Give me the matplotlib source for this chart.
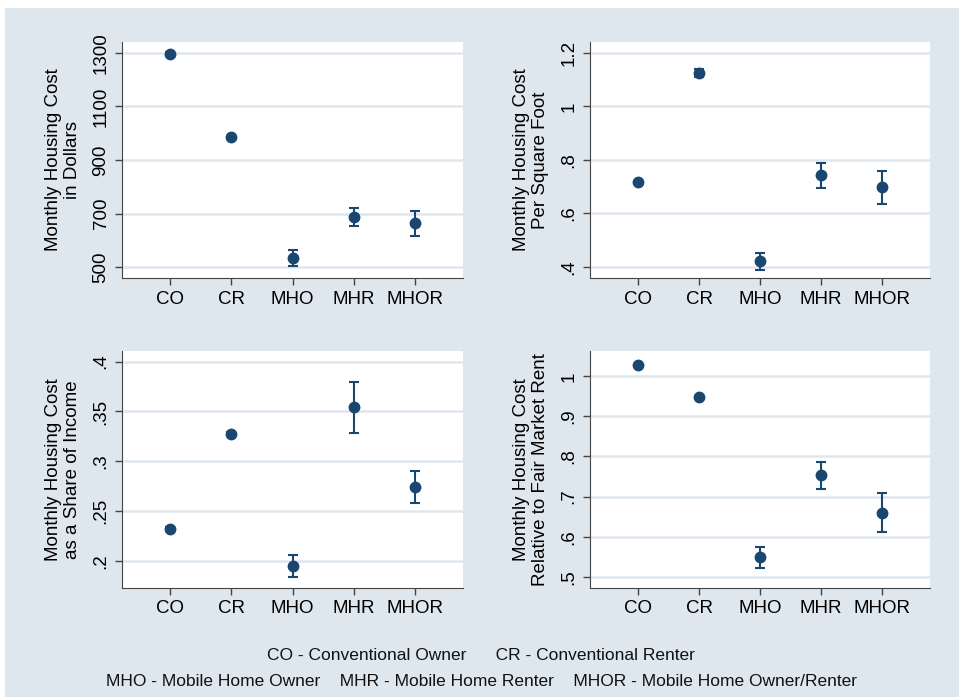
import numpy as np
import matplotlib
matplotlib.use("Agg")
import matplotlib.pyplot as plt
from matplotlib.patches import Rectangle

plt.rcParams['font.family'] = ['Liberation Sans', 'DejaVu Sans']

groups = ["CO", "CR", "MHO", "MHR", "MHOR"]

# panel values (mean, half-width of CI)
dollars = [1295, 985, 535, 688, 664]
dollars_err = [8, 6, 30, 33, 47]

per_sqft = [0.716, 1.124, 0.42, 0.742, 0.698]
per_sqft_err = [0.006, 0.015, 0.032, 0.048, 0.062]

income_share = [0.232, 0.327, 0.195, 0.354, 0.274]
income_share_err = [0.002, 0.002, 0.011, 0.026, 0.016]

fmr_ratio = [1.0275, 0.948, 0.548, 0.753, 0.660]
fmr_ratio_err = [0.004, 0.004, 0.027, 0.033, 0.049]

yticks1 = [500, 700, 900, 1100, 1300]
ytl1 = ["500", "700", "900", "1100", "1300"]
yticks2 = [0.4, 0.6, 0.8, 1.0, 1.2]
ytl2 = [".4", ".6", ".8", "1", "1.2"]
yticks3 = [0.2, 0.25, 0.3, 0.35, 0.4]
ytl3 = [".2", ".25", ".3", ".35", ".4"]
yticks4 = [0.5, 0.6, 0.7, 0.8, 0.9, 1.0]
ytl4 = [".5", ".6", ".7", ".8", ".9", "1"]

bg = "#dfe7ee"
navy = "#1a476f"
W, H = 959, 697

fig = plt.figure(figsize=(W / 100, H / 100), dpi=100, facecolor="white")
fig.patches.append(Rectangle((5 / W, 0), 1 - 5 / W, 1 - 8 / H, transform=fig.transFigure,
                             facecolor=bg, edgecolor="none", zorder=-10))

panels = [
    (dollars, dollars_err, yticks1, ytl1, (459, 1341), "Monthly Housing Cost\nin Dollars",
     [122 / W, 1 - 278 / H, 341 / W, 236 / H]),
    (per_sqft, per_sqft_err, yticks2, ytl2, (0.358, 1.241), "Monthly Housing Cost\nPer Square Foot",
     [590 / W, 1 - 278 / H, 340 / W, 236 / H]),
    (income_share, income_share_err, yticks3, ytl3, (0.173, 0.411), "Monthly Housing Cost\nas a Share of Income",
     [122 / W, 1 - 587.7 / H, 341 / W, 237 / H]),
    (fmr_ratio, fmr_ratio_err, yticks4, ytl4, (0.4726, 1.064), "Monthly Housing Cost\nRelative to Fair Market Rent",
     [590 / W, 1 - 587.7 / H, 340 / W, 237 / H]),
]

x = np.arange(1, len(groups) + 1)
for vals, errs, yt, ytl, ylim, label, rect in panels:
    ax = fig.add_axes(rect)
    ax.set_facecolor("white")
    for t in yt:
        ax.axhline(t, color=bg, lw=1.8, zorder=0)
    ax.errorbar(x, vals, yerr=errs, fmt="o", color=navy, ecolor=navy, markersize=7.5,
                elinewidth=1.5, capsize=3.3, capthick=1.5, zorder=3)
    ax.set_xlim(0.21, 5.79)
    ax.set_ylim(*ylim)
    ax.set_xticks(x)
    ax.set_xticklabels(groups, fontsize=13.5)
    ax.set_yticks(yt)
    ax.set_yticklabels(ytl, fontsize=13.5, rotation=90, va="center")
    ax.tick_params(direction="out", length=5, width=1, color="#444444", pad=4)
    ax.spines["top"].set_visible(False)
    ax.spines["right"].set_visible(False)
    ax.spines["left"].set_color("#444444")
    ax.spines["bottom"].set_color("#444444")
    ax.set_ylabel(label, fontsize=13.5, labelpad=8)

foot_kw = dict(ha="center", va="center", fontsize=12.5, color="#111111")
fig.text(481 / W, 1 - 655 / H, "CO - Conventional Owner      CR - Conventional Renter", **foot_kw)
fig.text(481 / W, 1 - 681 / H,
         "MHO - Mobile Home Owner    MHR - Mobile Home Renter    MHOR - Mobile Home Owner/Renter",
         **foot_kw)

fig.savefig("out.png", dpi=100, facecolor="white")
